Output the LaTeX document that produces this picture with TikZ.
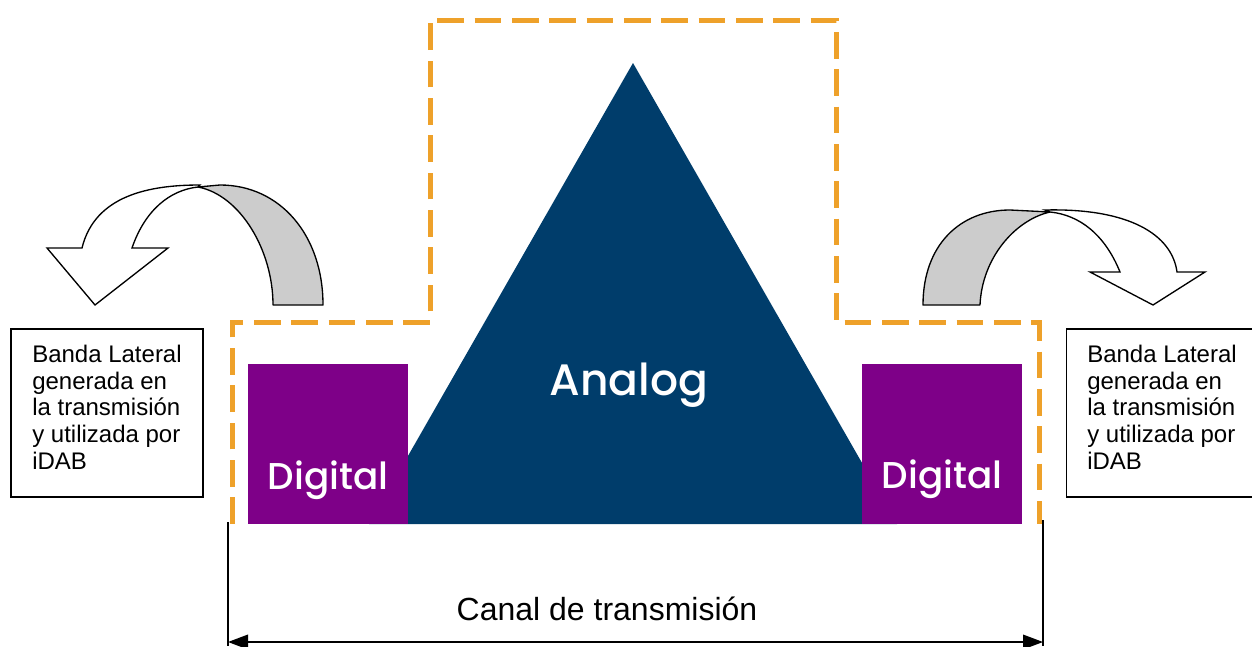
\documentclass[tikz,border=0pt]{standalone}
\usepackage{fontspec}
\setmainfont{Liberation Sans}
\newfontfamily\geofont{Poppins Medium}
\usepackage{xcolor}
\usetikzlibrary{arrows.meta,positioning}

\definecolor{guardorange}{RGB}{238,161,42}
\definecolor{digpurple}{RGB}{126,0,136}
\definecolor{anavy}{RGB}{0,61,107}
\definecolor{backgray}{RGB}{204,204,204}

\tikzset{
  guardline/.style={draw=guardorange, line width=3.75pt, dash pattern=on 20pt off 8pt},
  digbox/.style={fill=digpurple, draw=none, minimum width=120pt, minimum height=120pt, inner sep=0pt},
  sidebox/.style={draw=black, line width=1.1pt, minimum height=126pt, inner sep=0pt},
  sidetext/.style={align=left, inner sep=0pt, font=\fontsize{18}{20}\selectfont},
  backband/.style={fill=backgray, draw=black, line width=1pt, line join=round},
  frontband/.style={fill=white, draw=black, line width=1pt, line join=miter},
  bandlabel/.style={text=white, inner sep=0pt, font=\geofont\fontsize{28}{28}\selectfont}
}

\begin{document}
\begin{tikzpicture}[x=0.75pt,y=-0.75pt]
\useasboundingbox (0,0) rectangle (1252,646);

\draw[guardline] (232,524) -- (232,322) -- (430,322) -- (430,20) -- (836,20) -- (836,322) -- (1039,322) -- (1039,524);

\fill[anavy] (369,524) -- (633,63) -- (897,524) -- cycle;
\node[digbox] (digL) at (328,444) {};
\node[digbox] (digR) at (942,444) {};
\node[bandlabel, font=\geofont\fontsize{33}{33}\selectfont, anchor=base] (analog) at (629,395) {Analog};
\node[bandlabel, anchor=base] (digtxtL) at (328,489) {Digital};
\node[bandlabel, anchor=base] (digtxtR) at (942,488) {Digital};

\filldraw[backband] (273,305) -- (323,305) .. controls (323,235) and (280,185) .. (220,185) -- (198,187) .. controls (240,195) and (273,250) .. (273,305) -- cycle;
\filldraw[frontband] (200,185) .. controls (150,185) and (95,195) .. (82,248) -- (47,248) -- (95,305) -- (168,248) -- (132,248) .. controls (145,210) and (170,190) .. (198,187) -- cycle;
\filldraw[backband] (980,305) -- (923,305) .. controls (923,245) and (960,210) .. (1010,210) -- (1050,212) .. controls (1015,220) and (982,258) .. (980,305) -- cycle;
\filldraw[frontband] (1045,210) .. controls (1130,208) and (1172,235) .. (1177,272) -- (1205,272) -- (1153,305) -- (1090,272) -- (1120,272) .. controls (1105,235) and (1080,215) .. (1050,212) -- cycle;

\node[sidebox, minimum width=144pt] (boxL) at (107,413) {};
\node[sidebox, minimum width=146pt] (boxR) at (1164,413) {};
\node[sidetext, anchor=north west] (txtL) at (32,345) {Banda Lateral\\generada en\\la transmisi\'on\\y utilizada por\\iDAB};
\node[sidetext, anchor=north west] (txtR) at (1087,345) {Banda Lateral\\generada en\\la transmisi\'on\\y utilizada por\\iDAB};

\coordinate (chL) at (228,642);
\coordinate (chR) at (1043,642);
\draw[line width=1.1pt] (228,522) -- (228,646);
\draw[line width=1.1pt] (1043,520) -- (1043,646);
\draw[line width=1.1pt, {Triangle[length=15pt,width=11pt]}-{Triangle[length=15pt,width=11pt]}] (chL) -- (chR);
\node[font=\fontsize{24}{24}\selectfont, anchor=base] (canal) at (607,620) {Canal de transmisi\'on};
\end{tikzpicture}
\end{document}
